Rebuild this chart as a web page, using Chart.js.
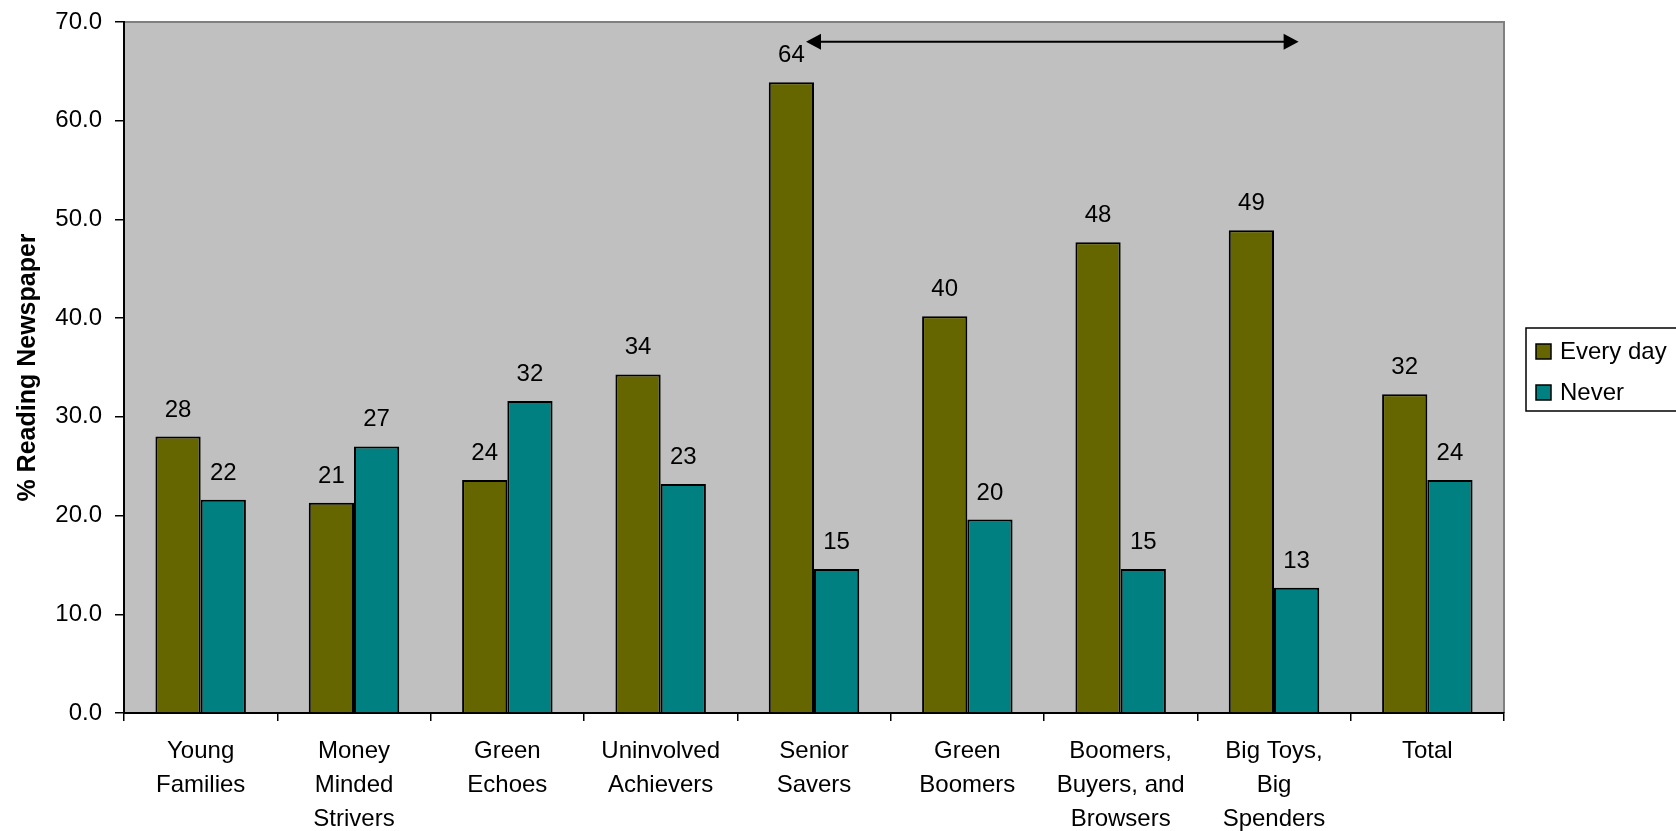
<!DOCTYPE html>
<html>
<head>
<meta charset="utf-8">
<title>% Reading Newspaper</title>
<script src="https://cdn.jsdelivr.net/npm/chart.js@4/dist/chart.umd.min.js"></script>
<style>
  html, body { margin: 0; padding: 0; background: #fff; }
  #wrap { width: 1676px; height: 831px; }
</style>
</head>
<body>
<div id="wrap"><canvas id="readingChart" width="1676" height="831"></canvas></div>
<script>
// segments along the x axis (multi-line labels)
const segments = [
    ['Young', 'Families'],
    ['Money', 'Minded', 'Strivers'],
    ['Green', 'Echoes'],
    ['Uninvolved', 'Achievers'],
    ['Senior', 'Savers'],
    ['Green', 'Boomers'],
    ['Boomers,', 'Buyers, and', 'Browsers'],
    ['Big Toys,', 'Big', 'Spenders'],
    ['Total']
];
const everyDay = [28.0, 21.3, 23.6, 34.3, 63.9, 40.2, 47.7, 48.9, 32.3];
const never = [21.6, 27.0, 31.6, 23.2, 14.6, 19.6, 14.6, 12.7, 23.6];
const yTicks = [0, 10, 20, 30, 40, 50, 60, 70];

// arrow spans from Senior Savers to Big Toys, Big Spenders
const arrowFrom = 4;
const arrowTo = 7;
const arrowLevel = 68;

const FONT = '"Liberation Sans", Arial, sans-serif';

// grey plot background with a thin grey frame on top/right
const plotArea = {
    id: 'plotArea',
    beforeDraw(chart) {
        const { ctx, chartArea: a } = chart;
        ctx.save();
        ctx.fillStyle = '#c0c0c0';
        ctx.fillRect(a.left, a.top, a.right - a.left, a.bottom - a.top);
        ctx.strokeStyle = '#808080';
        ctx.lineWidth = 2;
        ctx.beginPath();
        ctx.moveTo(a.left, a.top);
        ctx.lineTo(a.right, a.top);
        ctx.lineTo(a.right, a.bottom);
        ctx.stroke();
        ctx.restore();
    }
};

// rounded values above each bar
const barValues = {
    id: 'barValues',
    afterDatasetsDraw(chart) {
        const ctx = chart.ctx;
        ctx.save();
        ctx.font = '24px ' + FONT;
        ctx.fillStyle = '#000';
        ctx.textAlign = 'center';
        ctx.textBaseline = 'alphabetic';
        chart.data.datasets.forEach((ds, i) => {
            chart.getDatasetMeta(i).data.forEach((bar, j) => {
                ctx.fillText(String(Math.round(ds.data[j])), bar.x, bar.y - 20);
            });
        });
        ctx.restore();
    }
};

// double-headed arrow above the bars
const spanArrow = {
    id: 'spanArrow',
    afterDatasetsDraw(chart) {
        const ctx = chart.ctx;
        const start = chart.getDatasetMeta(0).data[arrowFrom];
        const end = chart.getDatasetMeta(1).data[arrowTo];
        const x1 = start.x + start.width / 2 - 8;
        const x2 = end.x + 2;
        const y = chart.scales.y.getPixelForValue(arrowLevel);
        const head = 15, half = 8;
        ctx.save();
        ctx.strokeStyle = '#000';
        ctx.fillStyle = '#000';
        ctx.lineWidth = 2;
        ctx.beginPath();
        ctx.moveTo(x1 + head - 2, y);
        ctx.lineTo(x2 - head + 2, y);
        ctx.stroke();
        ctx.beginPath();
        ctx.moveTo(x1, y);
        ctx.lineTo(x1 + head, y - half);
        ctx.lineTo(x1 + head, y + half);
        ctx.closePath();
        ctx.fill();
        ctx.beginPath();
        ctx.moveTo(x2, y);
        ctx.lineTo(x2 - head, y - half);
        ctx.lineTo(x2 - head, y + half);
        ctx.closePath();
        ctx.fill();
        ctx.restore();
    }
};

// boxed legend to the right of the plot
const boxLegend = {
    id: 'boxLegend',
    afterDraw(chart) {
        const ctx = chart.ctx;
        const left = chart.chartArea.right + 22;
        const top = 328;
        ctx.save();
        ctx.strokeStyle = '#000';
        ctx.lineWidth = 1.5;
        ctx.strokeRect(left, top, 200, 83);
        ctx.font = '24px ' + FONT;
        ctx.textBaseline = 'middle';
        chart.data.datasets.forEach((ds, i) => {
            const cy = top + 23 + i * 41;
            ctx.fillStyle = ds.backgroundColor;
            ctx.fillRect(left + 10, cy - 7, 15, 15);
            ctx.strokeRect(left + 10, cy - 7, 15, 15);
            ctx.fillStyle = '#000';
            ctx.fillText(ds.label, left + 34, cy + 1);
        });
        ctx.restore();
    }
};

new Chart(document.getElementById('readingChart').getContext('2d'), {
    type: 'bar',
    data: {
        labels: segments,
        datasets: [{
            label: 'Every day',
            data: everyDay,
            backgroundColor: '#666600',
            borderColor: '#000',
            borderWidth: 2
        }, {
            label: 'Never',
            data: never,
            backgroundColor: '#008080',
            borderColor: '#000',
            borderWidth: 2
        }]
    },
    options: {
        responsive: false,
        animation: false,
        categoryPercentage: 0.59,
        barPercentage: 1.0,
        layout: { padding: { top: 22, right: 172, bottom: 0, left: 0 } },
        plugins: {
            legend: { display: false },
            tooltip: { enabled: false }
        },
        scales: {
            x: {
                grid: {
                    offset: true,
                    drawOnChartArea: false,
                    drawTicks: true,
                    tickLength: 8,
                    color: '#000',
                    lineWidth: 1.5
                },
                border: { color: '#000', width: 2 },
                ticks: {
                    color: '#000',
                    font: { family: FONT, size: 24, lineHeight: 1.43 },
                    padding: 13,
                    maxRotation: 0,
                    autoSkip: false
                },
                afterFit(scale) { scale.height = 118; }
            },
            y: {
                min: 0,
                max: 70,
                afterBuildTicks(scale) { scale.ticks = yTicks.map(v => ({ value: v })); },
                grid: {
                    drawOnChartArea: false,
                    drawTicks: true,
                    tickLength: 9,
                    color: '#000',
                    lineWidth: 1.5
                },
                border: { color: '#000', width: 2 },
                ticks: {
                    color: '#000',
                    // small lineHeight keeps the top tick label from pushing the plot down
                    font: { family: FONT, size: 24, lineHeight: 0.6 },
                    padding: 13,
                    callback: v => Number(v).toFixed(1)
                },
                title: {
                    display: true,
                    text: '% Reading Newspaper',
                    color: '#000',
                    font: { family: FONT, size: 25, weight: 'bold' },
                    padding: { top: 13, bottom: 0 }
                },
                afterFit(scale) { scale.width = 124; }
            }
        }
    },
    plugins: [plotArea, barValues, spanArrow, boxLegend]
});
</script>
</body>
</html>
